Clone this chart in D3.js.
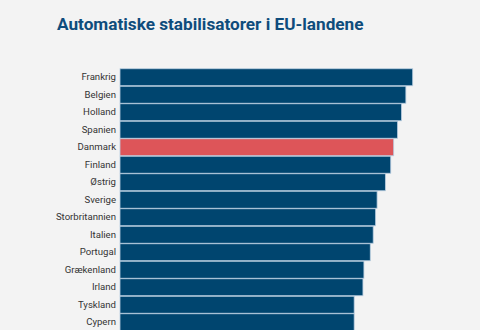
<!DOCTYPE html>
<html><head><meta charset="utf-8">
<script src="https://cdn.jsdelivr.net/npm/d3@7"></script>
<style>
html,body{margin:0;padding:0;background:#f3f3f3;overflow:hidden;}
svg{display:block;}
</style></head>
<body>
<script>
const countries = ["Frankrig","Belgien","Holland","Spanien","Danmark","Finland","Østrig","Sverige","Storbritannien","Italien","Portugal","Grækenland","Irland","Tyskland","Cypern"];
const values = [0.600,0.586,0.577,0.569,0.561,0.555,0.544,0.527,0.524,0.519,0.513,0.500,0.498,0.480,0.480];
const highlight = ["Danmark"];
const title = "Automatiske stabilisatorer i EU-landene";

const W = 480, H = 330;
const svg = d3.select("body").append("svg").attr("width", W).attr("height", H);
svg.append("rect").attr("width", W).attr("height", H).attr("fill", "#f3f3f3");

svg.append("text").attr("x", 57).attr("y", 29.5)
  .attr("font-family", "Roboto, sans-serif").attr("font-weight", 700)
  .attr("font-size", 17.2).attr("fill", "#0e4c7c").text(title);

const x = d3.scaleLinear().domain([0, 0.6]).range([120, 412.7]);
const y = d3.scaleBand().domain(countries).range([68.5, 68.5 + 17.5 * countries.length]).paddingInner(0.03).paddingOuter(0.015);

const data = countries.map((c, i) => ({c, v: values[i]}));

svg.append("g").selectAll("rect").data(data).join("rect")
  .attr("x", x(0)).attr("y", d => y(d.c))
  .attr("width", d => x(d.v) - x(0)).attr("height", y.bandwidth())
  .attr("fill", d => highlight.includes(d.c) ? "#dd5559" : "#00456f")
  .attr("stroke", "#b8cde0").attr("stroke-width", 0.8);

const yAxis = d3.axisLeft(y).tickSize(0).tickPadding(4);
const g = svg.append("g").attr("transform", `translate(${x(0)},0)`).call(yAxis);
g.select(".domain").remove();
g.selectAll("text").attr("font-family", "Roboto, sans-serif").attr("font-size", 9.6).attr("fill", "#333").attr("font-weight", 400);
</script>
</body></html>
